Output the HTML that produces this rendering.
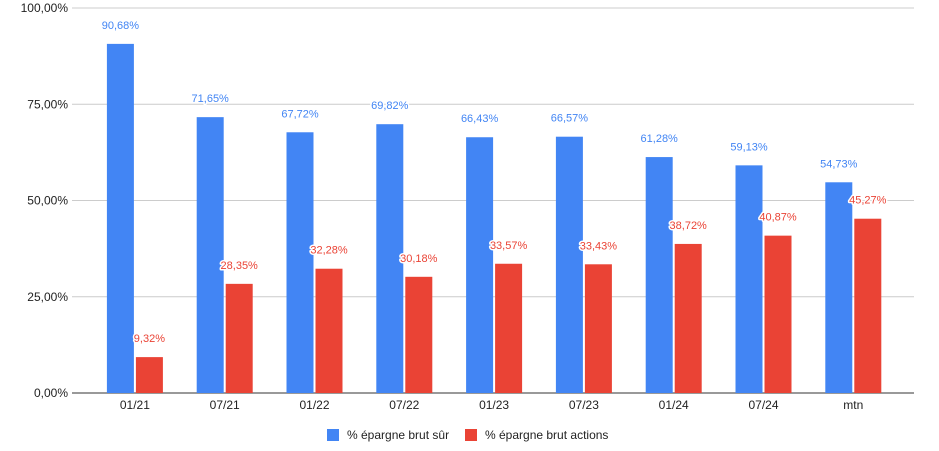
<!DOCTYPE html>
<html><head><meta charset="utf-8"><style>
body{margin:0;background:#fff;width:939px;height:446px;overflow:hidden;font-family:"Liberation Sans",Arial,sans-serif}
.vl{paint-order:stroke;stroke:#fff;stroke-width:3px;stroke-linejoin:round}
</style></head><body>
<svg id="chart" width="939" height="446" xmlns="http://www.w3.org/2000/svg" font-family="Liberation Sans, Arial, sans-serif"></svg>
<script>
const categories=["01/21","07/21","01/22","07/22","01/23","07/23","01/24","07/24","mtn"];
const surValues=[90.68,71.65,67.72,69.82,66.43,66.57,61.28,59.13,54.73];
const actionsValues=[9.32,28.35,32.28,30.18,33.57,33.43,38.72,40.87,45.27];
const yTicks=[0,25,50,75,100];
const seriesNames=["% épargne brut sûr","% épargne brut actions"];
const svgEl=document.getElementById('chart');
const NS="http://www.w3.org/2000/svg";
const plotLeft=72,plotRight=914,plotTop=8,plotBottom=393,bandStart=90,band=89.8,bw=27;
const yScale=v=>plotBottom-(v/100)*(plotBottom-plotTop);
const xc=i=>bandStart+band*(i+0.5);
function mk(t,a,txt){const e=document.createElementNS(NS,t);for(const k in a)e.setAttribute(k,a[k]);if(txt!==undefined)e.textContent=txt;svgEl.appendChild(e);return e;}
const fmt=v=>v.toFixed(2).replace('.',',')+'%';
yTicks.forEach(t=>{
 const g=mk('line',{x1:plotLeft,x2:plotRight,y1:yScale(t),y2:yScale(t),stroke:t===0?'#333':'#ccc','stroke-width':1});
 
 
 const l=mk('text',{x:68,y:yScale(t)+4,'text-anchor':'end','font-size':12,fill:'#222'},fmt(t));
 
 
});
categories.forEach((c,i)=>{
 const cx=xc(i);
 const b1=mk('rect',{x:cx-bw-1,y:yScale(surValues[i]),width:bw,height:plotBottom-yScale(surValues[i]),fill:'#4285f4'});
 
 
 const b2=mk('rect',{x:cx+1,y:yScale(actionsValues[i]),width:bw,height:plotBottom-yScale(actionsValues[i]),fill:'#ea4335'});
 
 
 const t1=mk('text',{class:'vl',x:cx-bw/2-1,y:yScale(surValues[i])-15,'text-anchor':'middle','font-size':11,fill:'#4285f4'},fmt(surValues[i]));
 
 
 const t2=mk('text',{class:'vl',x:cx+bw/2+1,y:yScale(actionsValues[i])-15,'text-anchor':'middle','font-size':11,fill:'#ea4335'},fmt(actionsValues[i]));
 
 
 const xl=mk('text',{x:cx,y:409,'text-anchor':'middle','font-size':12,fill:'#222'},c);
 
 
});
const legX=[327,465],cols=['#4285f4','#ea4335'];
seriesNames.forEach((n,i)=>{
 const r=mk('rect',{x:legX[i],y:429,width:12,height:12,fill:cols[i]});
 
 
 const t=mk('text',{x:legX[i]+20,y:439,'font-size':12,fill:'#222'},n);
 
 
});
</script>
</body></html>
